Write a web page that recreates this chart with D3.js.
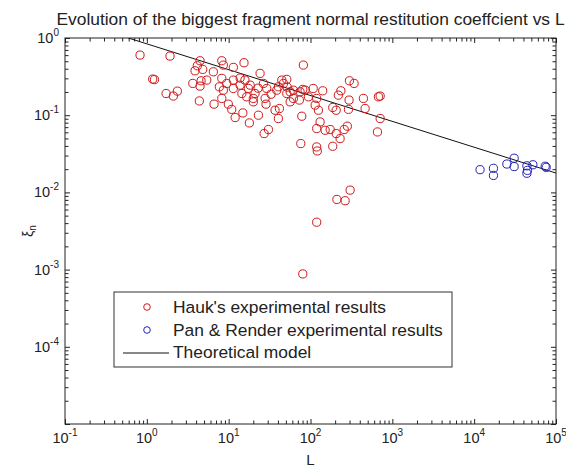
<!DOCTYPE html>
<html lang="en">
<head>
    <meta charset="UTF-8">
    <title>restitution</title>
    <script src="https://d3js.org/d3.v7.min.js"></script>
    <style>
    html, body {
        margin: 0;
        padding: 0;
        background: #fff;
    }
    svg text {
        font-family: "Liberation Sans", Arial, sans-serif;
        fill: #222;
    }
    </style>
</head>
<body>
<div id="chart"></div>
<script>

    // data
    var hauksL = [0.826, 1.92, 1.18, 1.24, 1.72, 2.11, 2.36, 4.47, 4.14, 3.88,
        4.82, 3.64, 4.47, 4.60, 5.40, 4.38, 6.50, 8.24, 8.61, 11.4,
        15.4, 8.24, 7.69, 8.61, 9.48, 11.4, 11.4, 13.8, 15.8, 17.4,
        14.5, 16.6, 8.24, 6.63, 9.91, 10.9, 12.0, 14.9, 17.9, 23.1,
        20.0, 24.2, 26.6, 29.2, 27.9, 28.6, 27.1, 30.6, 36.9, 41.7,
        40.5, 38.7, 44.6, 51.3, 46.7, 56.4, 61.8, 56.4, 74.6, 73.1,
        81.8, 80.5, 78.3, 76.1, 18.3, 21.0, 20.0, 40.5, 51.3, 61.8,
        85.9, 94.2, 108, 119, 114, 125, 141, 131, 119, 151,
        119, 121, 174, 187, 206, 187, 206, 230, 219, 235,
        258, 282, 291, 296, 299, 341, 443, 465, 676, 710,
        710, 658, 210, 265, 305, 119, 80.5, 22.9, 33.0, 51.9, 13.8];
    var hauksXi = [0.601, 0.583, 0.294, 0.289, 0.191, 0.177, 0.205, 0.507, 0.437, 0.376,
        0.392, 0.258, 0.238, 0.279, 0.285, 0.153, 0.365, 0.507, 0.446, 0.416,
        0.478, 0.300, 0.233, 0.211, 0.258, 0.285, 0.222, 0.245, 0.285, 0.222,
        0.191, 0.173, 0.165, 0.139, 0.139, 0.119, 0.0933, 0.107, 0.0794, 0.100,
        0.165, 0.348, 0.258, 0.222, 0.165, 0.139, 0.0578, 0.0652, 0.116, 0.122,
        0.0906, 0.211, 0.285, 0.291, 0.258, 0.201, 0.165, 0.149, 0.201, 0.157,
        0.446, 0.216, 0.0970, 0.0429, 0.245, 0.191, 0.149, 0.233, 0.191, 0.211,
        0.211, 0.173, 0.222, 0.165, 0.135, 0.116, 0.207, 0.0818, 0.0672, 0.0638,
        0.0388, 0.0344, 0.0652, 0.126, 0.116, 0.0396, 0.0578, 0.0498, 0.182, 0.207,
        0.0652, 0.0720, 0.119, 0.157, 0.279, 0.258, 0.165, 0.122, 0.173, 0.177,
        0.0906, 0.0607, 0.00811, 0.00780, 0.0107, 0.00411, 0.000879, 0.224, 0.187, 0.231, 0.303];

    var panL = [11800, 17200, 17200, 25100, 30800, 30800, 44100, 44800, 44100, 52200, 73800, 75900];
    var panXi = [0.0197, 0.0205, 0.0166, 0.0233, 0.0277, 0.0216, 0.0221, 0.0193, 0.0177, 0.0228, 0.0218, 0.0211];

    var theoryL = [0.594, 1e5];
    var theoryXi = [1, 0.0178];

    var xDecades = [-1, 0, 1, 2, 3, 4, 5];
    var yDecades = [-5, -4, -3, -2, -1, 0];
    var yLabelled = [-4, -3, -2, -1, 0];

    var legendLabels = ["Hauk's experimental results", "Pan & Render experimental results", "Theoretical model"];
    var titleText = "Evolution of the biggest fragment normal restitution coeffcient vs L";

    var W = 566, H = 468;
    var plot = {left: 65, right: 556, top: 38, bottom: 424};
    var red = "#d01818", blue = "#2222b8";

    var x = d3.scaleLog().domain([1e-1, 1e5]).range([plot.left, plot.right]);
    var y = d3.scaleLog().domain([1e-5, 1]).range([plot.bottom, plot.top]);

    var svg = d3.select("#chart").append("svg")
        .attr("width", W)
        .attr("height", H);

    svg.append("rect").attr("width", W).attr("height", H).attr("fill", "#fff");

    svg.append("defs").append("clipPath").attr("id", "clip")
        .append("rect")
        .attr("x", plot.left).attr("y", plot.top)
        .attr("width", plot.right - plot.left)
        .attr("height", plot.bottom - plot.top);

    // minor ticks 2..9 inside each decade
    function minors(decs) {
        var out = [];
        decs.slice(0, -1).forEach(function (e) {
            for (var k = 2; k <= 9; k++) out.push(k * Math.pow(10, e));
        });
        return out;
    }
    var xMajor = xDecades.map(function (e) { return Math.pow(10, e); });
    var yMajor = yDecades.map(function (e) { return Math.pow(10, e); });

    function tickAxis(axis, vals, size) {
        return axis.tickValues(vals).tickSize(-size).tickFormat(function () { return ""; });
    }

    var axes = [
        [d3.axisBottom(x), xMajor, minors(xDecades), "translate(0," + plot.bottom + ")"],
        [d3.axisTop(x), xMajor, minors(xDecades), "translate(0," + plot.top + ")"],
        [d3.axisLeft(y), yMajor, minors(yDecades), "translate(" + plot.left + ",0)"],
        [d3.axisRight(y), yMajor, minors(yDecades), "translate(" + plot.right + ",0)"]
    ];
    axes.forEach(function (a) {
        var g1 = svg.append("g").attr("transform", a[3]).call(tickAxis(a[0], a[1], 5));
        var g2 = svg.append("g").attr("transform", a[3]).call(tickAxis(a[0].tickValues(null), a[2], 3.5));
        [g1, g2].forEach(function (g) {
            g.select(".domain").remove();
            g.selectAll("line").attr("stroke", "#222");
        });
    });

    svg.append("rect")
        .attr("x", plot.left).attr("y", plot.top)
        .attr("width", plot.right - plot.left)
        .attr("height", plot.bottom - plot.top)
        .attr("fill", "none")
        .attr("stroke", "#222")
        .attr("stroke-width", 1);

    // tick labels 10^n
    function powLabel(sel, e) {
        sel.append("tspan").text("10");
        sel.append("tspan").attr("dy", -7).attr("font-size", 10).text(e);
    }
    xDecades.forEach(function (e) {
        var t = svg.append("text")
            .attr("x", x(Math.pow(10, e)))
            .attr("y", 443)
            .attr("text-anchor", "middle")
            .attr("font-size", 14.5);
        powLabel(t, e);
    });
    yLabelled.forEach(function (e) {
        var t = svg.append("text")
            .attr("x", plot.left - 6)
            .attr("y", y(Math.pow(10, e)) + 5)
            .attr("text-anchor", "end")
            .attr("font-size", 14.5);
        powLabel(t, e);
    });

    // theoretical line
    var line = d3.line()
        .x(function (d) { return x(d[0]); })
        .y(function (d) { return y(d[1]); });
    svg.append("path")
        .datum(d3.zip(theoryL, theoryXi))
        .attr("clip-path", "url(#clip)")
        .attr("fill", "none")
        .attr("stroke", "#111")
        .attr("stroke-width", 1)
        .attr("d", line);

    // markers
    function scatter(L, Xi, col) {
        svg.append("g").selectAll("circle")
            .data(d3.zip(L, Xi))
            .enter().append("circle")
            .attr("cx", function (d) { return x(d[0]); })
            .attr("cy", function (d) { return y(d[1]); })
            .attr("r", 4.1)
            .attr("fill", "none")
            .attr("stroke", col)
            .attr("stroke-width", 1);
    }
    scatter(hauksL, hauksXi, red);
    scatter(panL, panXi, blue);

    // title and axis labels
    svg.append("text")
        .attr("x", (plot.left + plot.right) / 2)
        .attr("y", 25)
        .attr("text-anchor", "middle")
        .attr("font-size", 17.4)
        .text(titleText);

    svg.append("text")
        .attr("x", (plot.left + plot.right) / 2)
        .attr("y", 465)
        .attr("text-anchor", "middle")
        .attr("font-size", 15)
        .text("L");

    var yl = svg.append("text")
        .attr("transform", "translate(33," + ((plot.top + plot.bottom) / 2) + ") rotate(-90)")
        .attr("text-anchor", "middle")
        .attr("font-size", 14);
    yl.append("tspan").text("\u03BE");
    yl.append("tspan").attr("dy", 3).attr("font-size", 10).text("n");

    // legend
    var leg = svg.append("g").attr("transform", "translate(114,292)");
    leg.append("rect")
        .attr("width", 338).attr("height", 75)
        .attr("fill", "#fff")
        .attr("stroke", "#333")
        .attr("stroke-width", 1);
    var rows = [21, 44, 66];
    legendLabels.forEach(function (lab, i) {
        leg.append("text")
            .attr("x", 59)
            .attr("y", rows[i])
            .attr("font-size", 17.4)
            .text(lab);
    });
    leg.append("circle").attr("cx", 33).attr("cy", 15).attr("r", 3.3)
        .attr("fill", "none").attr("stroke", red);
    leg.append("circle").attr("cx", 33).attr("cy", 38).attr("r", 3.3)
        .attr("fill", "none").attr("stroke", blue);
    leg.append("line").attr("x1", 9).attr("x2", 55).attr("y1", 61).attr("y2", 61)
        .attr("stroke", "#111").attr("stroke-width", 1);

</script>
</body>
</html>
